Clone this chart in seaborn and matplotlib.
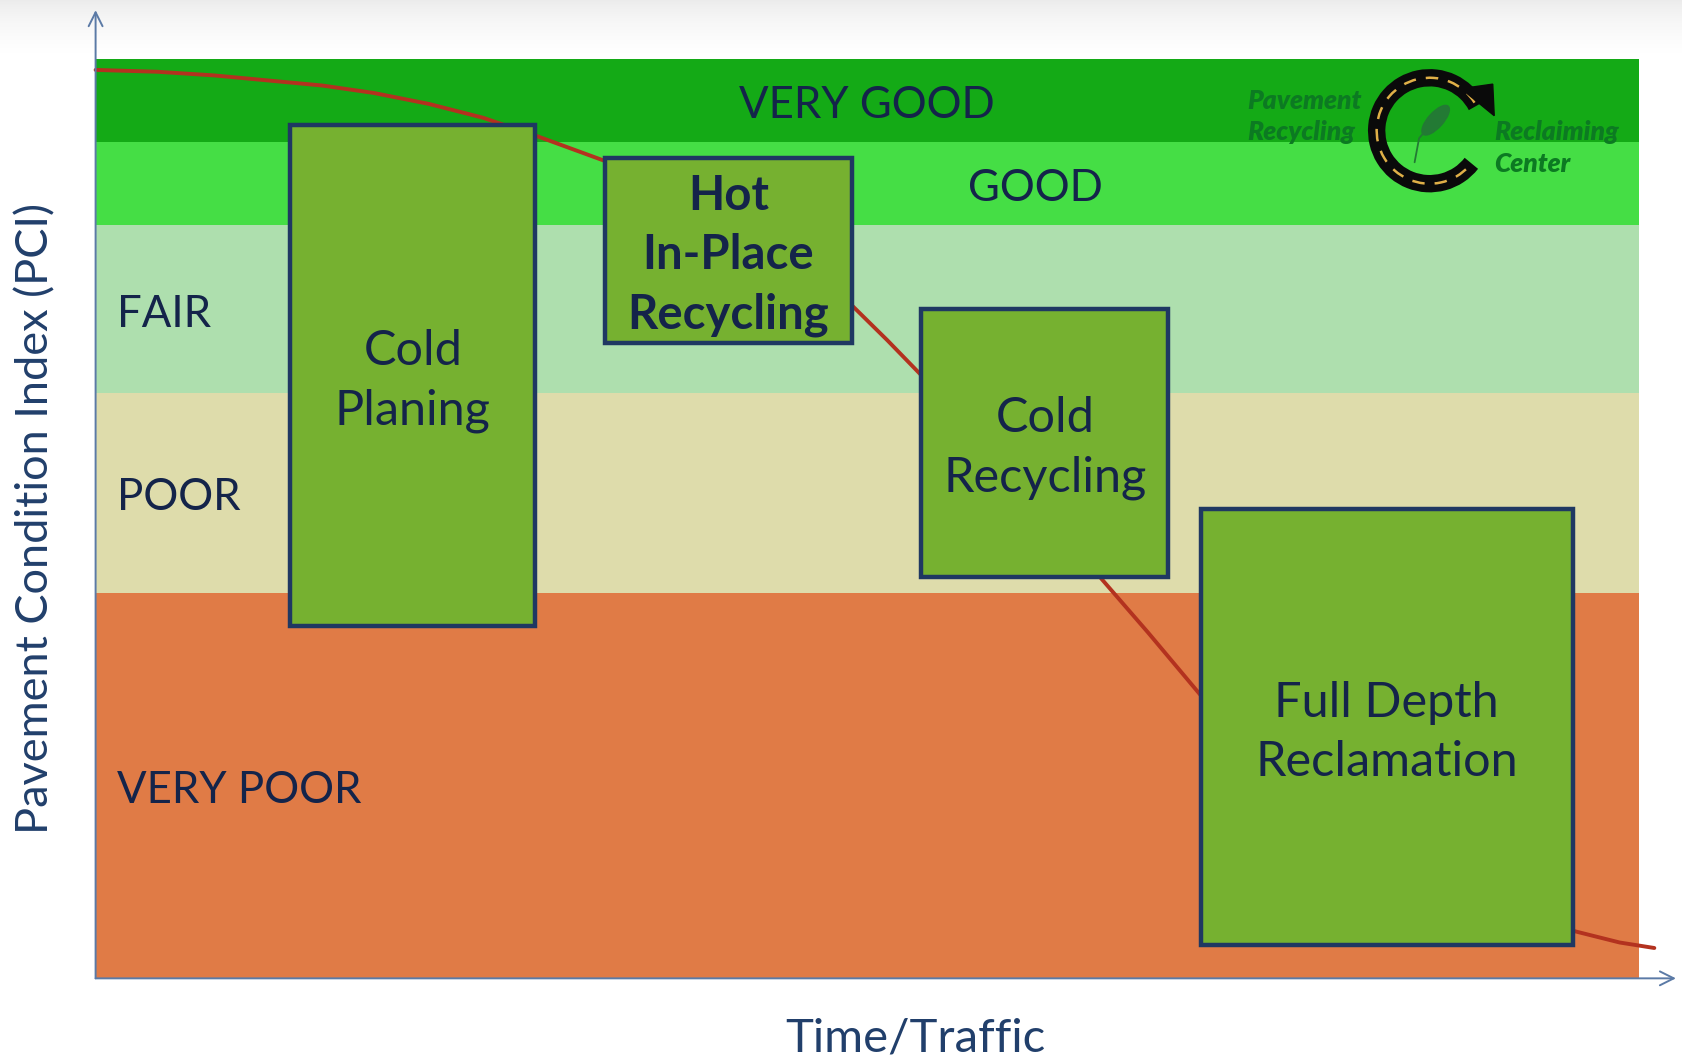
import numpy as np
import matplotlib
matplotlib.use("Agg")
import matplotlib.pyplot as plt
import matplotlib.patches as mpatches
import seaborn as sns
import pandas as pd

# condition bands (PCI ranges, top -> bottom)
band_names = ["VERY GOOD", "GOOD", "FAIR", "POOR", "VERY POOR"]
band_top = [100, 91.0, 81.9, 63.7, 41.9]
band_bottom = [91.0, 81.9, 63.7, 41.9, 0]
band_colors = ["#14aa16", "#45de45", "#aedfae", "#dedcab", "#e07b46"]
band_label_x = [50.0, 60.9, 1.4, 1.4, 1.4]
band_label_ha = ["center", "center", "left", "left", "left"]

# treatment windows
treat_names = ["Cold\nPlaning", "Hot\nIn-Place\nRecycling", "Cold\nRecycling",
               "Full Depth\nReclamation"]
treat_x0 = [12.6, 33.0, 53.5, 71.6]
treat_x1 = [28.5, 49.0, 69.5, 95.7]
treat_y0 = [38.3, 69.1, 43.6, 3.6]
treat_y1 = [92.8, 89.2, 72.8, 51.0]
treat_bold = [False, True, False, False]

# deterioration curve
time_vals = [0, 4.0, 7.7, 14.7, 18.0, 21.6, 25.1, 28.6, 33.0, 35.5, 42.5, 49.0,
             51.3, 53.5, 56.4, 60.6, 65.1, 68.2, 71.6, 77.3, 87.7, 95.9, 98.75, 101.0]
pci_vals = [98.8, 98.6, 98.2, 97.1, 96.3, 95.1, 93.6, 91.6, 88.9, 86.6, 79.6, 73.2,
            69.4, 65.6, 59.7, 51.6, 43.6, 37.6, 30.8, 20.1, 9.6, 5.1, 3.9, 3.3]

text_col = "#14244a"
axis_col = "#5b7aa6"
dy = -0.55  # nudge caps text down to sit on the visual centre

sns.set_theme(style="white")
plt.rcParams["font.family"] = ["Lato", "DejaVu Sans"]

fig = plt.figure(figsize=(16.83, 10.61), dpi=100)

# light gray fade at the top
bg = fig.add_axes([0, 0.944, 1, 0.056], zorder=-5)
grad = np.linspace(1.0, 0.0, 60).reshape(-1, 1) ** 1.5
bg.imshow(grad, aspect="auto", cmap="Greys", vmin=0, vmax=6.5, extent=[0, 1, 0, 1])
bg.axis("off")

ax = fig.add_axes([0.0568, 0.0779, 0.917, 0.8666])
ax.set_xlim(0, 100)
ax.set_ylim(0, 100)

for top, bot, col in zip(band_top, band_bottom, band_colors):
    ax.axhspan(bot, top, color=col, lw=0, zorder=0)

for name, top, bot, lx, ha in zip(band_names, band_top, band_bottom, band_label_x, band_label_ha):
    ax.text(lx, (top + bot) / 2 + dy, name, ha=ha, va="center", fontsize=31.5,
            color=text_col, zorder=2)

curve = pd.DataFrame({"time": time_vals, "pci": pci_vals})
sns.lineplot(data=curve, x="time", y="pci", color="#b3321f", lw=2.8,
             ax=ax, zorder=1, clip_on=False, sort=False)

ax.bar(treat_x0, np.subtract(treat_y1, treat_y0), width=np.subtract(treat_x1, treat_x0),
       bottom=treat_y0, align="edge", color="#76b130", edgecolor="#1f3862",
       linewidth=3.2, zorder=3)

for name, x0, x1, y0, y1, b in zip(treat_names, treat_x0, treat_x1, treat_y0, treat_y1, treat_bold):
    ax.text((x0 + x1) / 2, (y0 + y1) / 2 + dy, name, ha="center", va="center",
            fontsize=34 if b else 35, color=text_col,
            fontweight="bold" if b else "normal",
            linespacing=1.43, zorder=4)

for s in ax.spines.values():
    s.set_visible(False)
ax.set_xticks([])
ax.set_yticks([])

# axis arrows
ax.annotate("", xy=(0, 1.053), xytext=(0, 0), xycoords="axes fraction",
            arrowprops=dict(arrowstyle="->", color=axis_col, lw=1.4,
                            mutation_scale=25, shrinkA=0, shrinkB=0))
ax.annotate("", xy=(1.024, 0), xytext=(0, 0), xycoords="axes fraction",
            arrowprops=dict(arrowstyle="->", color=axis_col, lw=1.4,
                            mutation_scale=25, shrinkA=0, shrinkB=0))

ax.set_ylabel("Pavement Condition Index (PCI)", fontsize=32.5, color="#213f6b")
ax.yaxis.set_label_coords(-0.039, 0.5)
ax.set_xlabel("Time/Traffic", fontsize=34, color="#213f6b")
ax.xaxis.set_label_coords(0.531, -0.065)
ax.xaxis.label.set_va("center")
ax.yaxis.label.set_va("center")

# logo
lg = fig.add_axes([0.8048, 0.806, 0.0893, 0.1416])
lg.set_xlim(-1, 1)
lg.set_ylim(-1, 1)
lg.set_aspect("equal")
lg.axis("off")
lg.add_patch(mpatches.Arc((0, 0), 1.41, 1.41, theta1=28, theta2=322,
                          color="#0a0a0a", lw=12.5))
lg.add_patch(mpatches.Arc((0, 0), 1.41, 1.41, theta1=32, theta2=318,
                          color="#e0b048", lw=1.8, ls=(0, (5, 4))))
lg.add_patch(mpatches.Polygon([[0.42, 0.56], [0.84, 0.62], [0.86, 0.20]],
                              closed=True, color="#0a0a0a"))
lg.add_patch(mpatches.Ellipse((0.08, 0.14), 0.5, 0.2, angle=48, color="#237a34"))
lg.plot([-0.2, -0.14, 0.05], [-0.42, -0.1, 0.12], color="#237a34", lw=1.3)

logo_col = "#0c7a22"
logo_kw = dict(va="center", fontsize=19, style="italic", fontweight="heavy",
               color=logo_col)
fig.text(0.741, 0.905, "Pavement", ha="left", **logo_kw)
fig.text(0.741, 0.876, "Recycling", ha="left", **logo_kw)
fig.text(0.888, 0.876, "Reclaiming", ha="left", **logo_kw)
fig.text(0.888, 0.845, "Center", ha="left", **logo_kw)

fig.savefig("out.png", dpi=100, facecolor="white")
